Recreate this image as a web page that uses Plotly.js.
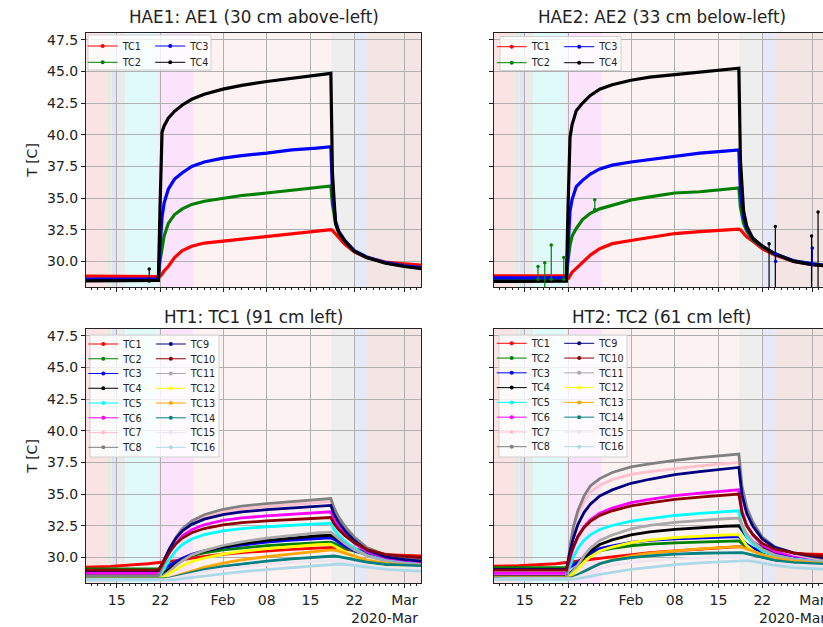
<!DOCTYPE html>
<html><head><meta charset="utf-8">
<script src="https://cdn.plot.ly/plotly-3.0.1.min.js"></script>
<style>html,body{margin:0;padding:0;overflow:hidden;background:#fff}#chart{width:830px;height:627px}</style>
</head><body><div id="chart"></div>
<script>
// ---------------- DATA ----------------
const haeT = ['2020-01-08','2020-01-12','2020-01-16','2020-01-20','2020-01-21 16:00','2020-01-21 22:00','2020-01-22 06:00','2020-01-22 14:00','2020-01-23 06:00','2020-01-24 06:00','2020-01-25 12:00','2020-01-27','2020-01-29','2020-02-01','2020-02-04','2020-02-08','2020-02-12','2020-02-16','2020-02-18 06:00','2020-02-18 12:00','2020-02-19','2020-02-19 12:00','2020-02-20 12:00','2020-02-22','2020-02-24','2020-02-27','2020-03-01','2020-03-05'];
const haeNames = ['TC1','TC2','TC3','TC4'];

const hae1Tc1 = [28.85,28.85,28.85,28.85,28.85,28.8,29.0,29.25,29.6,30.3,30.85,31.2,31.45,31.6,31.8,32.0,32.2,32.4,32.5,32.45,32.2,31.9,31.35,30.75,30.3,29.95,29.8,29.65];
const hae1Tc2 = [28.55,28.55,28.55,28.55,28.55,30.0,31.2,32.0,33.0,33.7,34.15,34.5,34.75,34.95,35.2,35.4,35.6,35.8,35.95,34.5,33.0,32.3,31.6,30.8,30.3,29.9,29.65,29.45];
const hae1Tc3 = [28.6,28.6,28.6,28.6,28.6,31.0,33.5,34.6,35.7,36.5,37.0,37.5,37.85,38.15,38.35,38.55,38.8,38.95,39.05,35.5,33.2,32.4,31.65,30.85,30.35,29.9,29.65,29.45];
const hae1Tc4 = [28.45,28.45,28.45,28.45,28.5,34.0,40.2,40.7,41.3,41.85,42.35,42.8,43.2,43.6,43.9,44.2,44.45,44.7,44.85,37.0,33.0,32.3,31.6,30.8,30.3,29.85,29.6,29.35];

const hae2Tc1 = [28.87,28.87,28.87,28.87,28.87,28.6,28.9,29.15,29.45,29.9,30.5,31.0,31.4,31.65,31.9,32.2,32.35,32.5,32.55,32.5,32.2,31.95,31.6,31.0,30.5,30.0,29.75,29.6];
const hae2Tc2 = [28.6,28.6,28.6,28.6,28.6,30.0,31.3,32.0,32.6,33.3,33.8,34.15,34.45,34.85,35.1,35.4,35.5,35.7,35.8,34.3,33.0,32.4,31.7,31.15,30.6,30.05,29.8,29.6];
const hae2Tc3 = [28.7,28.7,28.7,28.7,28.7,31.0,34.0,34.9,35.9,36.4,36.9,37.3,37.6,37.85,38.05,38.3,38.55,38.7,38.8,35.5,33.5,32.6,31.8,31.2,30.6,30.05,29.8,29.6];
const hae2Tc4 = [28.42,28.42,28.42,28.42,28.45,34.0,39.8,40.8,41.9,42.5,43.1,43.6,43.95,44.3,44.55,44.75,44.95,45.15,45.25,38.0,34.0,32.8,31.8,31.2,30.6,30.0,29.75,29.55];

// isolated sensor glitches (time, base value, glitch value)
const hae1Tc4GlitchT = ['2020-01-20 05:00'];
const hae1Tc4GlitchLo = [28.45];
const hae1Tc4GlitchHi = [29.4];
const hae2Tc2GlitchT = ['2020-01-17 03:00','2020-01-18 05:00','2020-01-19 06:00','2020-01-21 06:00','2020-01-26 05:00'];
const hae2Tc2GlitchLo = [28.6,27.8,28.6,28.6,34.1];
const hae2Tc2GlitchHi = [29.6,29.9,31.3,30.3,34.87];
const hae2Tc3GlitchT = ['2020-02-24 03:00','2020-03-01 00:00'];
const hae2Tc3GlitchLo = [30.6,29.75];
const hae2Tc3GlitchHi = [30.0,31.05];
const hae2Tc4GlitchT = ['2020-02-23 02:00','2020-02-24 02:00','2020-02-29 21:00','2020-03-01 22:00'];
const hae2Tc4GlitchLo = [27.0,27.0,27.0,27.0];
const hae2Tc4GlitchHi = [31.4,32.76,32.0,33.9];

const htT = ['2020-01-08','2020-01-14','2020-01-20','2020-01-21 16:00','2020-01-22 06:00','2020-01-22 18:00','2020-01-23 12:00','2020-01-24 12:00','2020-01-25 12:00','2020-01-27','2020-01-29','2020-02-01','2020-02-04','2020-02-08','2020-02-12','2020-02-16','2020-02-18 06:00','2020-02-18 18:00','2020-02-19 12:00','2020-02-20 12:00','2020-02-22','2020-02-24','2020-02-27','2020-03-01','2020-03-05'];
const htNames = ['TC1','TC2','TC3','TC4','TC5','TC6','TC7','TC8','TC9','TC10','TC11','TC12','TC13','TC14','TC15','TC16'];

const ht1Tc1 = [29.2,29.3,29.5,29.6,29.6,29.61,29.65,29.72,29.8,29.94,30.08,30.25,30.38,30.52,30.64,30.74,30.8,30.79,30.74,30.66,30.52,30.37,30.22,30.15,30.1];
const ht1Tc2 = [29.1,29.1,29.1,29.1,29.16,29.27,29.44,29.69,29.9,30.15,30.36,30.59,30.76,30.93,31.05,31.16,31.2,31.11,30.94,30.75,30.5,30.26,30.06,29.97,29.9];
const ht1Tc3 = [28.95,28.95,28.95,28.95,29.03,29.16,29.37,29.68,29.94,30.25,30.51,30.8,31.0,31.21,31.37,31.5,31.55,31.42,31.18,30.9,30.55,30.22,29.92,29.79,29.7];
const ht1Tc4 = [28.6,28.6,28.6,28.6,28.69,28.85,29.1,29.48,29.8,30.18,30.49,30.84,31.09,31.34,31.53,31.69,31.75,31.61,31.36,31.07,30.7,30.35,30.03,29.9,29.8];
const ht1Tc5 = [28.4,28.4,28.4,28.4,28.83,29.26,29.9,30.55,31.02,31.45,31.8,32.1,32.27,32.42,32.53,32.64,32.7,32.22,31.74,31.26,30.72,30.17,29.79,29.63,29.5];
const ht1Tc6 = [28.75,28.75,28.75,28.75,29.24,29.72,30.45,31.18,31.71,32.19,32.58,32.92,33.12,33.28,33.41,33.53,33.6,33.0,32.4,31.8,31.12,30.44,29.96,29.76,29.6];
const ht1Tc7 = [28.5,28.5,28.5,28.5,29.09,29.68,30.57,31.45,32.1,32.69,33.16,33.57,33.81,34.02,34.16,34.31,34.4,33.7,32.99,32.29,31.49,30.69,30.12,29.89,29.7];
const ht1Tc8 = [28.55,28.55,28.55,28.55,29.16,29.77,30.69,31.6,32.27,32.88,33.37,33.8,34.04,34.25,34.41,34.56,34.65,33.92,33.18,32.45,31.61,30.78,30.19,29.95,29.75];
const ht1Tc9 = [28.95,28.95,28.95,28.95,29.47,29.98,30.75,31.53,32.09,32.61,33.02,33.38,33.59,33.77,33.89,34.02,34.1,33.43,32.77,32.1,31.34,30.58,30.05,29.83,29.65];
const ht1Tc10 = [29.0,29.0,29.0,29.0,29.42,29.83,30.45,31.08,31.53,31.95,32.28,32.57,32.74,32.88,32.98,33.09,33.15,32.67,32.19,31.71,31.17,30.62,30.24,30.08,29.95];
const ht1Tc11 = [28.35,28.35,28.35,28.35,28.46,28.64,28.93,29.37,29.74,30.18,30.54,30.94,31.23,31.53,31.74,31.93,32.0,31.82,31.48,31.09,30.6,30.13,29.71,29.53,29.4];
const ht1Tc12 = [28.3,28.3,28.3,28.3,28.38,28.52,28.74,29.07,29.35,29.68,29.95,30.25,30.47,30.69,30.86,31.0,31.05,30.92,30.68,30.4,30.05,29.72,29.42,29.29,29.2];
const ht1Tc13 = [28.3,28.3,28.3,28.3,28.3,28.32,28.39,28.53,28.69,28.94,29.22,29.54,29.8,30.07,30.3,30.49,30.6,30.57,30.5,30.34,30.08,29.79,29.52,29.39,29.3];
const ht1Tc14 = [28.3,28.3,28.3,28.3,28.3,28.32,28.37,28.48,28.61,28.81,29.03,29.29,29.49,29.71,29.89,30.04,30.13,30.11,30.06,29.96,29.8,29.62,29.44,29.36,29.3];
const ht1Tc15 = [28.25,28.25,28.25,28.25,28.25,28.27,28.31,28.41,28.51,28.68,28.87,29.09,29.26,29.44,29.6,29.72,29.8,29.79,29.74,29.66,29.52,29.37,29.22,29.15,29.1];
const ht1Tc16 = [28.2,28.2,28.2,28.2,28.2,28.2,28.22,28.26,28.32,28.42,28.55,28.72,28.87,29.04,29.2,29.35,29.45,29.47,29.48,29.45,29.36,29.22,29.05,28.97,28.88];

const ht2Tc1 = [29.3,29.35,29.5,29.6,29.6,29.62,29.66,29.72,29.8,29.92,30.05,30.22,30.37,30.52,30.66,30.78,30.85,30.83,30.77,30.68,30.55,30.42,30.3,30.25,30.2];
const ht2Tc2 = [29.2,29.2,29.2,29.2,29.33,29.45,29.66,30.0,30.25,30.52,30.71,30.92,31.05,31.15,31.23,31.28,31.3,31.11,30.85,30.62,30.4,30.23,30.12,30.05,30.0];
const ht2Tc3 = [29.05,29.05,29.05,29.05,29.21,29.36,29.62,30.04,30.35,30.69,30.92,31.18,31.34,31.47,31.56,31.62,31.65,31.39,31.04,30.74,30.44,30.22,30.06,29.97,29.9];
const ht2Tc4 = [28.5,28.5,28.5,28.5,28.74,28.98,29.38,30.02,30.5,31.02,31.38,31.78,32.02,32.22,32.36,32.46,32.5,32.13,31.63,31.2,30.78,30.45,30.23,30.1,30.0];
const ht2Tc5 = [28.4,28.4,28.4,28.4,29.35,29.98,30.72,31.36,31.78,32.2,32.52,32.86,33.07,33.31,33.47,33.6,33.68,32.46,31.64,31.07,30.5,30.13,29.89,29.74,29.6];
const ht2Tc6 = [28.75,28.75,28.75,28.75,29.94,30.73,31.65,32.44,32.97,33.49,33.89,34.32,34.58,34.88,35.08,35.24,35.34,33.66,32.55,31.76,30.98,30.48,30.14,29.95,29.75];
const ht2Tc7 = [28.45,28.45,28.45,28.45,30.71,32.07,33.34,34.42,35.15,35.69,36.14,36.55,36.78,37.03,37.23,37.41,37.5,35.16,33.6,32.51,31.42,30.71,30.25,29.97,29.7];
const ht2Tc8 = [28.45,28.45,28.45,28.45,30.88,32.33,33.69,34.86,35.64,36.22,36.7,37.14,37.38,37.66,37.87,38.06,38.16,35.64,33.95,32.78,31.6,30.84,30.34,30.04,29.75];
const ht2Tc9 = [29.05,29.05,29.05,29.05,30.5,31.47,32.59,33.56,34.2,34.85,35.33,35.85,36.17,36.54,36.78,36.98,37.1,34.93,33.48,32.46,31.45,30.79,30.36,30.1,29.85];
const ht2Tc10 = [29.0,29.0,29.0,29.0,30.08,30.8,31.64,32.36,32.84,33.32,33.68,34.07,34.31,34.58,34.76,34.91,35.0,33.5,32.5,31.8,31.1,30.65,30.35,30.18,30.0];
const ht2Tc11 = [28.35,28.35,28.35,28.35,28.64,28.92,29.4,30.16,30.73,31.34,31.77,32.25,32.53,32.77,32.93,33.05,33.1,32.57,31.86,31.25,30.65,30.19,29.87,29.69,29.55];
const ht2Tc12 = [28.3,28.3,28.3,28.3,28.51,28.72,29.07,29.63,30.05,30.51,30.82,31.17,31.38,31.56,31.68,31.77,31.8,31.43,30.94,30.53,30.11,29.79,29.57,29.45,29.35];
const ht2Tc13 = [28.4,28.4,28.4,28.4,28.42,28.48,28.62,28.88,29.15,29.5,29.8,30.12,30.33,30.53,30.68,30.8,30.85,30.8,30.67,30.5,30.22,29.94,29.7,29.56,29.45];
const ht2Tc14 = [28.35,28.35,28.35,28.35,28.37,28.43,28.6,28.88,29.15,29.5,29.77,29.99,30.12,30.26,30.33,30.38,30.4,30.37,30.3,30.18,29.98,29.77,29.58,29.48,29.4];
const ht2Tc15 = [28.3,28.3,28.3,28.3,28.31,28.35,28.47,28.67,28.88,29.15,29.38,29.6,29.75,29.88,29.97,30.02,30.05,30.03,29.98,29.88,29.72,29.55,29.4,29.32,29.25];
const ht2Tc16 = [28.25,28.25,28.25,28.25,28.25,28.27,28.32,28.4,28.5,28.66,28.84,29.05,29.22,29.43,29.57,29.68,29.74,29.75,29.74,29.68,29.55,29.38,29.2,29.1,29.0];

// shaded experiment phases
const phaseStart = ['2020-01-01','2020-01-13 10:00','2020-01-14 04:00','2020-01-15 00:00','2020-01-16 08:00','2020-01-21 16:00','2020-01-27 08:00','2020-02-18 07:00','2020-02-22 02:00','2020-02-24 00:00'];
const phaseEnd   = ['2020-01-13 10:00','2020-01-14 04:00','2020-01-15 00:00','2020-01-16 08:00','2020-01-21 16:00','2020-01-27 08:00','2020-02-18 07:00','2020-02-22 02:00','2020-02-24 00:00','2020-03-10'];

const xTickVals = ['2020-01-15','2020-01-22','2020-02-01','2020-02-08','2020-02-15','2020-02-22','2020-03-01'];
const xTickText = ['15','22','Feb','08','15','22','Mar'];
const panelTitles = ['HAE1: AE1 (30 cm above-left)','HAE2: AE2 (33 cm below-left)','HT1: TC1 (91 cm left)','HT2: TC2 (61 cm left)'];

// ---------------- STYLE ----------------
const FONT = 'DejaVu Sans';
const TXT = '#222222';
const phaseColors = ['#fbe3e3','#e3ede3','#e2e4f6','#ebebeb','#e0fafa','#fbe3fb','#fdf2f2','#eeeeee','#e5e8f6','#f4e5e5'];
const haeColors = ['#ff0000','#008000','#0000ff','#000000'];
const htColors = ['#ff0000','#008000','#0000ff','#000000','#00ffff','#ff00ff','#ffc0cb','#808080','#000080','#8b0000','#a9a9a9','#ffff00','#ffa500','#008080','#efe4f0','#add8e6'];

const W = 830, H = 627;
const M = {l:86, r:1, t:33, b:44, autoexpand:false};
const plotW = W - M.l - M.r, plotH = H - M.t - M.b;
const pxX = px => (px - M.l) / plotW;        // figure px -> paper x
const pxY = py => (H - M.b - py) / plotH;    // figure px -> paper y

const panels = [
  {xa:'x',  ya:'y',  t:haeT, names:haeNames, colors:haeColors, series:[hae1Tc1,hae1Tc2,hae1Tc3,hae1Tc4], lw:3.2,
   glitches:[[3,hae1Tc4GlitchT,hae1Tc4GlitchLo,hae1Tc4GlitchHi]],
   rows:[[0,2],[1,3]], textX:122.7, row0:46, dy:16.3, box:[88,211,35,70], titleShift:16.5},
  {xa:'x2', ya:'y2', t:haeT, names:haeNames, colors:haeColors, series:[hae2Tc1,hae2Tc2,hae2Tc3,hae2Tc4], lw:3.2,
   glitches:[[1,hae2Tc2GlitchT,hae2Tc2GlitchLo,hae2Tc2GlitchHi],[2,hae2Tc3GlitchT,hae2Tc3GlitchLo,hae2Tc3GlitchHi],[3,hae2Tc4GlitchT,hae2Tc4GlitchLo,hae2Tc4GlitchHi]],
   rows:[[0,2],[1,3]], textX:531.7, row0:46.7, dy:16, box:[500,621,36.5,70.5], titleShift:16.5},
  {xa:'x3', ya:'y3', t:htT, names:htNames, colors:htColors, series:[ht1Tc1,ht1Tc2,ht1Tc3,ht1Tc4,ht1Tc5,ht1Tc6,ht1Tc7,ht1Tc8,ht1Tc9,ht1Tc10,ht1Tc11,ht1Tc12,ht1Tc13,ht1Tc14,ht1Tc15,ht1Tc16], lw:2.8,
   glitches:[], rows:[[0,8],[1,9],[2,10],[3,11],[4,12],[5,13],[6,14],[7,15]], textX:123.3, row0:344, dy:14.76, box:[90,219,335,457], titleShift:12.5},
  {xa:'x4', ya:'y4', t:htT, names:htNames, colors:htColors, series:[ht2Tc1,ht2Tc2,ht2Tc3,ht2Tc4,ht2Tc5,ht2Tc6,ht2Tc7,ht2Tc8,ht2Tc9,ht2Tc10,ht2Tc11,ht2Tc12,ht2Tc13,ht2Tc14,ht2Tc15,ht2Tc16], lw:2.8,
   glitches:[], rows:[[0,8],[1,9],[2,10],[3,11],[4,12],[5,13],[6,14],[7,15]], textX:531.7, row0:343.3, dy:14.77, box:[499,627,335,457], titleShift:12.5}
];

const PW = 335, PH = 254;
const pix = [ {l:86, top:33}, {l:494, top:33}, {l:86, top:329}, {l:494, top:329} ];
const xDom = [[pxX(86), pxX(86+PW)], [pxX(494), pxX(494+PW)]];
const yDomTop = [pxY(33+PH), pxY(33)];
const yDomBot = [pxY(329+PH), pxY(329)];

const traces = [];
const shapes = [];
const annotations = [];
const layout = {
  width:W, height:H, margin:M, paper_bgcolor:'#ffffff', plot_bgcolor:'#ffffff',
  font:{family:FONT, color:TXT}, showlegend:true, hovermode:false
};

let legendCount = 0;
panels.forEach((p, pi) => {
  p.series.forEach((s, si) => {
    traces.push({type:'scatter', mode:'lines', x:p.t, y:s, xaxis:p.xa, yaxis:p.ya,
      line:{color:p.colors[si], width:p.lw}, showlegend:false, name:p.names[si]});
  });
  p.glitches.forEach(g => {
    const [si, gt, lo, hi] = g;
    const gx = [], gy = [];
    gt.forEach((t, k) => { gx.push(t, t, null); gy.push(lo[k], hi[k], null); });
    traces.push({type:'scatter', mode:'lines+markers', x:gx, y:gy, xaxis:p.xa, yaxis:p.ya,
      line:{color:p.colors[si], width:1.2}, marker:{color:p.colors[si], size:3.5},
      connectgaps:false, showlegend:false});
  });
  p.rows.forEach((row, ri) => {
    legendCount++;
    const lid = legendCount === 1 ? 'legend' : 'legend' + legendCount;
    const rowY = p.row0 + ri * p.dy;
    layout[lid] = {
      x:pxX(p.textX - 40), y:pxY(rowY - 14.5), xref:'paper', yref:'paper',
      xanchor:'left', yanchor:'top', orientation:'h', bgcolor:'rgba(0,0,0,0)', borderwidth:0,
      font:{family:FONT, size:9.7, color:TXT}, entrywidth:22.5, entrywidthmode:'pixels',
      itemwidth:30, traceorder:'normal', itemclick:false, itemdoubleclick:false
    };
    row.forEach(si => {
      traces.push({type:'scatter', mode:'lines+markers', x:[null], y:[null], xaxis:p.xa, yaxis:p.ya,
        name:p.names[si], legend:lid, showlegend:true,
        line:{color:p.colors[si], width:1}, marker:{color:p.colors[si], size:4}});
    });
  });
  phaseStart.forEach((s, k) => {
    shapes.push({type:'rect', xref:p.xa, yref:p.ya + ' domain', x0:s, x1:phaseEnd[k], y0:0, y1:1,
      fillcolor:phaseColors[k], line:{width:0}, layer:'below'});
  });
  const b = p.box, pp = pix[pi];
  shapes.push({type:'rect', xref:p.xa + ' domain', yref:p.ya + ' domain',
    x0:(b[0]-pp.l)/PW, x1:(b[1]-pp.l)/PW, y0:(pp.top + PH - b[3])/PH, y1:(pp.top + PH - b[2])/PH,
    fillcolor:'rgba(255,255,255,0.8)', line:{color:'#d0d0d0', width:1}, layer:'above'});
  annotations.push({xref:p.xa + ' domain', yref:p.ya + ' domain', x:0.5, y:1, xanchor:'center', yanchor:'middle',
    yshift:p.titleShift, text:panelTitles[pi], showarrow:false, font:{family:FONT, size:16.8, color:TXT}});
  const isBottom = pi >= 2, isLeft = pi % 2 === 0;
  const axKey = p.xa === 'x' ? 'xaxis' : 'xaxis' + p.xa.slice(1);
  const ayKey = p.ya === 'y' ? 'yaxis' : 'yaxis' + p.ya.slice(1);
  layout[axKey] = {
    domain: xDom[isLeft ? 0 : 1], anchor:p.ya, type:'date',
    range:['2020-01-10 02:10','2020-03-03 16:00'],
    tickmode:'array', tickvals:xTickVals, ticktext:xTickText, showticklabels:isBottom,
    ticks:'outside', ticklen:4, tickwidth:1, tickcolor:TXT,
    tickfont:{family:FONT, size:14, color:TXT},
    showgrid:true, gridcolor:'#b0b0b0', gridwidth:1, zeroline:false,
    showline:true, mirror:true, linecolor:TXT, linewidth:1, fixedrange:true,
    minor:{tickmode:'linear', tick0:'2020-01-01', dtick:86400000, ticks:'outside', ticklen:2, tickwidth:1, tickcolor:TXT, showgrid:false}
  };
  layout[ayKey] = {
    domain: isBottom ? yDomBot : yDomTop, anchor:p.xa, range:[27.98, 48.03],
    tickmode:'linear', tick0:30, dtick:2.5, tickformat:'.1f', showticklabels:isLeft,
    ticks:'outside', ticklen:4, tickwidth:1, tickcolor:TXT,
    tickfont:{family:FONT, size:14, color:TXT},
    showgrid:true, gridcolor:'#b0b0b0', gridwidth:1, zeroline:false,
    showline:true, mirror:true, linecolor:TXT, linewidth:1, fixedrange:true,
    title: isLeft ? {text:'T [C]', font:{family:FONT, size:14, color:TXT}, standoff:6} : undefined
  };
  if (isBottom) {
    annotations.push({xref:p.xa + ' domain', yref:p.ya + ' domain', x:1, y:0, xanchor:'right', yanchor:'middle',
      xshift:-1, yshift:-34.7, text:'2020-Mar', showarrow:false, font:{family:FONT, size:14, color:TXT}});
  }
});
layout.shapes = shapes;
layout.annotations = annotations;

Plotly.newPlot('chart', traces, layout, {staticPlot:true, displayModeBar:false});
</script></body></html>
